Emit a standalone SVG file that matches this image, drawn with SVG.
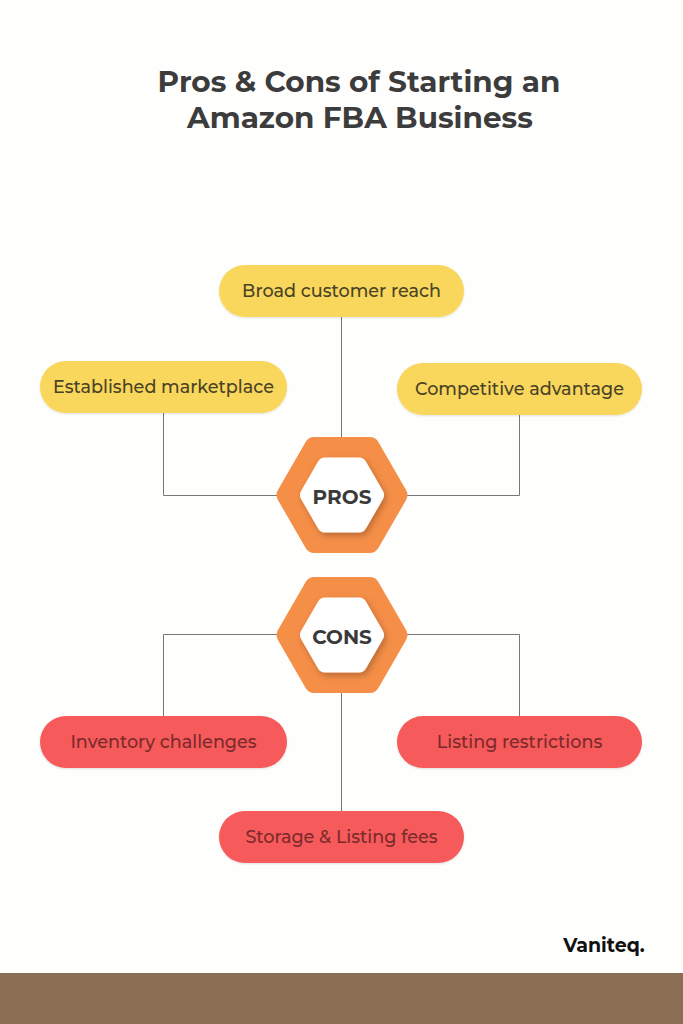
<svg xmlns="http://www.w3.org/2000/svg" width="683" height="1024" viewBox="0 0 683 1024">
<defs>
<filter id="sh" x="-30%" y="-30%" width="160%" height="160%">
<feDropShadow dx="2" dy="3" stdDeviation="3" flood-color="#000" flood-opacity="0.25"/>
</filter>
<filter id="psh" x="-10%" y="-20%" width="120%" height="140%">
<feDropShadow dx="0" dy="1" stdDeviation="1" flood-color="#000" flood-opacity="0.12"/>
</filter>
</defs>
<style>
.title{font-family:"Montserrat","Open Sans","Liberation Sans",sans-serif;font-weight:700;font-size:29.5px;fill:#3c3c3c;text-anchor:middle}
.pill{filter:url(#psh)}
.yel{fill:#F9D65B}
.red{fill:#F65A5A}
.pt{font-family:"Montserrat","Open Sans","Liberation Sans",sans-serif;font-weight:500;font-size:17.6px;text-anchor:middle}
.yt{fill:#4a4326}
.rt{fill:#7a2a2c}
.hexo{fill:#F58E47;stroke:#F58E47;stroke-width:20;stroke-linejoin:round}
.hexi{fill:#FFFFFF;stroke:#FFFFFF;stroke-width:16;stroke-linejoin:round;filter:url(#sh)}
.ht{font-family:"Montserrat","Open Sans","Liberation Sans",sans-serif;font-weight:700;font-size:20px;fill:#3a3a3a;text-anchor:middle}
.conn{fill:none;stroke:#777;stroke-width:1}
</style>
<rect width="683" height="1024" fill="#FEFEFD"/>
<rect x="0" y="973" width="683" height="51" fill="#8B6D54"/>
<text class="title" x="359" y="92">Pros &amp; Cons of Starting an</text>
<text class="title" x="360" y="128">Amazon FBA Business</text>

<g id="connectors">
<path class="conn" d="M341.5,317 V440"/>
<path class="conn" d="M163.5,413 V495.5 H282"/>
<path class="conn" d="M519.5,415 V495.5 H402"/>
<path class="conn" d="M163.5,716 V634.5 H282"/>
<path class="conn" d="M519.5,716 V634.5 H402"/>
<path class="conn" d="M341.5,690 V811"/>
</g>

<g id="broad">
<rect class="pill yel" x="219" y="265" width="245" height="52" rx="26"/>
<text class="pt yt" x="341.5" y="297">Broad customer reach</text>
</g>
<g id="established">
<rect class="pill yel" x="40" y="361" width="247" height="52" rx="26"/>
<text class="pt yt" x="163.5" y="393">Established marketplace</text>
</g>
<g id="competitive">
<rect class="pill yel" x="397" y="363" width="245" height="52" rx="26"/>
<text class="pt yt" x="519.5" y="395">Competitive advantage</text>
</g>

<g id="pros">
<polygon class="hexo" points="397.4,495 369.7,543 314.3,543 286.6,495 314.3,447 369.7,447"/>
<polygon class="hexi" points="376,495 359,524.5 325,524.5 308,495 325,465.5 359,465.5"/>
<text class="ht" x="342" y="504">PROS</text>
</g>
<g id="cons">
<polygon class="hexo" points="397.4,635 369.7,683 314.3,683 286.6,635 314.3,587 369.7,587"/>
<polygon class="hexi" points="376,635 359,664.5 325,664.5 308,635 325,605.5 359,605.5"/>
<text class="ht" x="342" y="644">CONS</text>
</g>

<g id="inventory">
<rect class="pill red" x="40" y="716" width="247" height="52" rx="26"/>
<text class="pt rt" x="163.5" y="748">Inventory challenges</text>
</g>
<g id="listing">
<rect class="pill red" x="397" y="716" width="245" height="52" rx="26"/>
<text class="pt rt" x="519.5" y="748">Listing restrictions</text>
</g>
<g id="storage">
<rect class="pill red" x="219" y="811" width="245" height="52" rx="26"/>
<text class="pt rt" x="341.5" y="843">Storage &amp; Listing fees</text>
</g>

<text x="604" y="952" font-family="Montserrat,'Open Sans','Liberation Sans',sans-serif" font-weight="700" font-size="19" fill="#111" text-anchor="middle">Vaniteq.</text>
</svg>
